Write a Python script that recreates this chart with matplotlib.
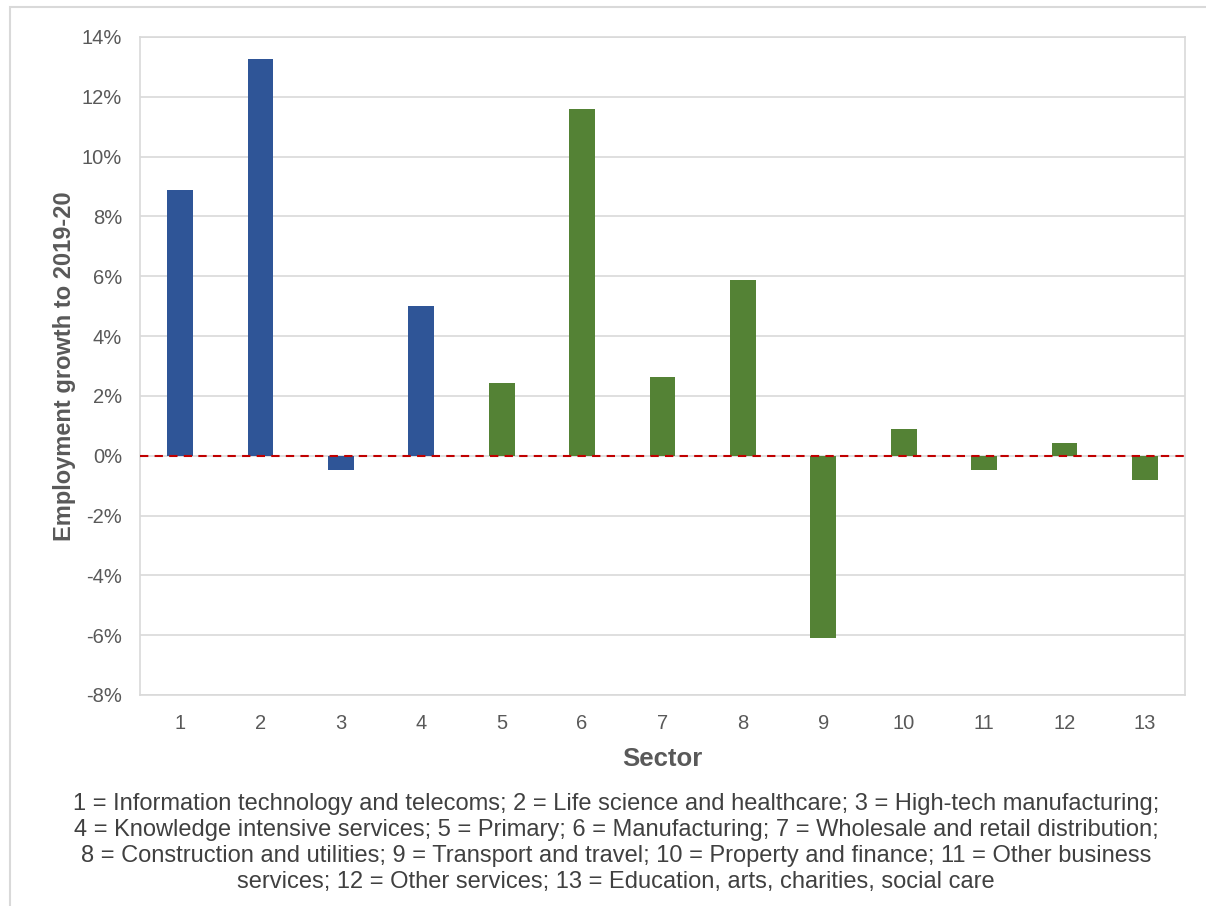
import matplotlib.pyplot as plt
from matplotlib.patches import Rectangle
from matplotlib.ticker import FuncFormatter

# data
sectors = [str(i) for i in range(1, 14)]
growth = [8.9, 13.25, -0.48, 5.0, 2.44, 11.6, 2.64, 5.88, -6.1, 0.9, -0.47, 0.43, -0.8]
bar_colors = ["#2F5597"] * 4 + ["#548235"] * 9

note = ("1 = Information technology and telecoms; 2 = Life science and healthcare; 3 = High-tech manufacturing;\n"
        "4 = Knowledge intensive services; 5 = Primary; 6 = Manufacturing; 7 = Wholesale and retail distribution;\n"
        "8 = Construction and utilities; 9 = Transport and travel; 10 = Property and finance; 11 = Other business\n"
        "services; 12 = Other services; 13 = Education, arts, charities, social care")

plt.rcParams['font.family'] = ['Liberation Sans', 'DejaVu Sans']

fig = plt.figure(figsize=(12.06, 9.06), dpi=100)
# outer frame
fig.patches.append(Rectangle((10 / 1206, -0.01), 1.2, 1 - 7 / 906 + 0.01, transform=fig.transFigure,
                             fill=False, edgecolor="#D9D9D9", linewidth=1.5))

ax = fig.add_axes([140 / 1206, 1 - 695 / 906, (1185 - 140) / 1206, (695 - 37) / 906])

x = list(range(len(sectors)))
ax.bar(x, growth, width=0.32, color=bar_colors, zorder=3)
ax.axhline(0, color="#C00000", linestyle=(0, (4, 3)), linewidth=1.5, zorder=4)

ax.set_xlim(-0.5, len(sectors) - 0.5)
ax.set_ylim(-8, 14)
ax.set_yticks(range(-8, 15, 2))
ax.yaxis.set_major_formatter(FuncFormatter(lambda v, p: f"{v:.0f}%"))
ax.set_xticks(x)
ax.set_xticklabels(sectors)
ax.grid(axis="y", color="#D9D9D9", linewidth=1.2, zorder=0)
for s in ax.spines.values():
    s.set_color("#D9D9D9")
    s.set_linewidth(1.2)
ax.tick_params(length=0, labelsize=14.5, colors="#595959")
ax.tick_params(axis="y", pad=13)
ax.tick_params(axis="x", pad=14)

ax.set_ylabel("Employment growth to 2019-20", fontsize=17, fontweight="bold", color="#595959", labelpad=4)
ax.set_xlabel("Sector", fontsize=18.5, fontweight="bold", color="#595959", labelpad=10)

fig.text(616 / 1206, 1 - 843 / 906, note, ha="center", va="center", fontsize=17,
         color="#404040", linespacing=1.23)

plt.savefig("out.png", dpi=100)
